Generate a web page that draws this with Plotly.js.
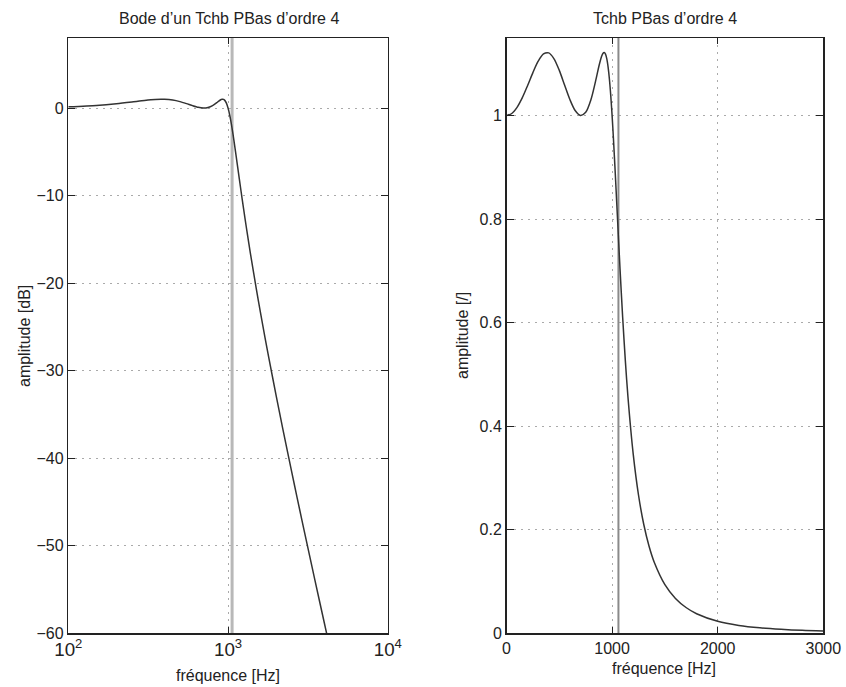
<!DOCTYPE html>
<html>
<head>
<meta charset="utf-8">
<script src="https://cdn.plot.ly/plotly-3.0.1.min.js"></script>
<style>html,body{margin:0;padding:0;background:#fff;}#chart{width:846px;height:687px;}</style>
</head>
<body>
<div id="chart"></div>
<script>
// Left plot: Bode magnitude (dB) vs frequency (log scale)
var freqLog = [100,150,200,250,300,350,400,450,500,550,600,650,700,750,800,850,875,900,912.5,925,937.5,950,962.5,975,987.5,1000,1012.5,1025,1037.5,1050,1075,1100,1125,1150,1200,1250,1300,1350,1400,1500,1600,1700,1800,2000,2200,2400,2600,2800,3000,3500,4000,4200];
var gainDb = [0.14,0.30,0.49,0.69,0.87,0.98,0.99,0.91,0.73,0.50,0.27,0.08,0.00,0.06,0.27,0.61,0.79,0.94,0.99,1.00,0.98,0.90,0.77,0.58,0.32,0.00,-0.39,-0.84,-1.33,-1.88,-3.05,-4.29,-5.56,-6.81,-9.23,-11.48,-13.57,-15.51,-17.31,-20.58,-23.50,-26.15,-28.56,-32.87,-36.64,-39.99,-43.03,-45.80,-48.36,-53.99,-58.80,-60.55];

// Right plot: linear amplitude vs frequency (linear scale)
var freqLin = [0,50,100,150,200,250,300,350,400,450,500,550,600,650,700,750,800,850,875,900,912.5,925,937.5,950,962.5,975,987.5,1000,1012.5,1025,1037.5,1050,1075,1100,1125,1150,1200,1250,1300,1350,1400,1500,1600,1700,1800,2000,2200,2400,2600,2800,3000];
var ampLin = [1.000,1.0041,1.0160,1.0347,1.0582,1.0831,1.1051,1.1192,1.1212,1.1098,1.0874,1.0590,1.0311,1.0098,1.0002,1.0064,1.0311,1.0725,1.0954,1.1143,1.1201,1.1220,1.1188,1.1095,1.0931,1.0693,1.0381,1.0000,0.9562,0.9082,0.8576,0.8059,0.7040,0.6102,0.5275,0.4565,0.3457,0.2667,0.2097,0.1677,0.1363,0.0935,0.0668,0.0493,0.0373,0.0227,0.0147,0.0100,0.0071,0.0051,0.0038];

// Cut-off frequency marker (Hz)
var cutoffHz = 1060;

// Axis ranges / ticks
var dbRange = [-60, 8];
var ampRange = [0, 1.15];
var dbTicks = [0,-10,-20,-30,-40,-50,-60];
var ampTicks = [0,0.2,0.4,0.6,0.8,1];
var linTicks = [0,1000,2000,3000];

var titles = {
  left: "Bode d\u2019un Tchb PBas d\u2019ordre 4",
  right: "Tchb PBas d\u2019ordre 4",
  xLabel: "fréquence [Hz]",
  yLeft: "amplitude [dB]",
  yRight: "amplitude [/]"
};

var W = 846, H = 687;
function px(x){ return x / W; }
function py(y){ return 1 - y / H; }

var FONT = "Liberation Sans, Arial, Helvetica, sans-serif";
var TXT = "#222";
var curveColor = "#333333";
var LBL = { family: FONT, size: 16, color: TXT };

var traces = [
  { x: [cutoffHz, cutoffHz], y: dbRange, xaxis: "x", yaxis: "y", mode: "lines",
    line: { color: "#b8b8b8", width: 3 }, hoverinfo: "skip" },
  { x: freqLog, y: gainDb, xaxis: "x", yaxis: "y", mode: "lines",
    line: { color: curveColor, width: 1.5, shape: "spline", smoothing: 0.6 } },
  { x: [cutoffHz, cutoffHz], y: ampRange, xaxis: "x2", yaxis: "y2", mode: "lines",
    line: { color: "#8a8a8a", width: 2 }, hoverinfo: "skip" },
  { x: freqLin, y: ampLin, xaxis: "x2", yaxis: "y2", mode: "lines",
    line: { color: curveColor, width: 1.5, shape: "spline", smoothing: 0.8 } }
];

var common = {
  showline: true, linecolor: "#222", linewidth: 1.5, mirror: "ticks",
  ticks: "inside", tickcolor: "#222", tickwidth: 1,
  showgrid: true, gridcolor: "#aaaaaa", gridwidth: 1, griddash: "2px,5px",
  zeroline: false, tickfont: LBL,
  fixedrange: true
};

function ax(extra){ var o = {}; for (var k in common) o[k] = common[k]; for (var k2 in extra) o[k2] = extra[k2]; return o; }

var yDom = [(H - 633) / H, (H - 38) / H];

function note(text, x, y, angle){
  return { text: text, x: px(x), y: py(y), xref: "paper", yref: "paper",
    xanchor: "center", yanchor: "middle", textangle: angle || 0, showarrow: false, font: LBL };
}

var layout = {
  width: W, height: H,
  margin: { l: 0, r: 0, t: 0, b: 0, pad: 0 },
  paper_bgcolor: "#fff", plot_bgcolor: "#fff",
  showlegend: false,
  font: LBL,
  xaxis: ax({ domain: [68.3 / W, 387.8 / W], type: "log", range: [2, 4], dtick: 1,
    exponentformat: "power", ticklen: 6, anchor: "y", tickfont: { family: FONT, size: 15, color: TXT } }),
  yaxis: ax({ domain: yDom, range: dbRange, tickmode: "array", tickvals: dbTicks,
    ticklen: 7, anchor: "x" }),
  xaxis2: ax({ domain: [506.5 / W, 823.3 / W], range: [0, 3000], tickmode: "array",
    tickvals: linTicks, ticklen: 6, anchor: "y2" }),
  yaxis2: ax({ domain: yDom, range: ampRange, tickmode: "array", tickvals: ampTicks,
    ticklen: 7, anchor: "x2" }),
  annotations: [
    note(titles.left, 229, 18.5),
    note(titles.right, 665, 18.5),
    note(titles.xLabel, 228, 675),
    note(titles.xLabel, 664, 668),
    note(titles.yLeft, 24, 336, -90),
    note(titles.yRight, 462, 336, -90)
  ]
};

Plotly.newPlot("chart", traces, layout, { displayModeBar: false, staticPlot: true });
</script>
</body>
</html>
